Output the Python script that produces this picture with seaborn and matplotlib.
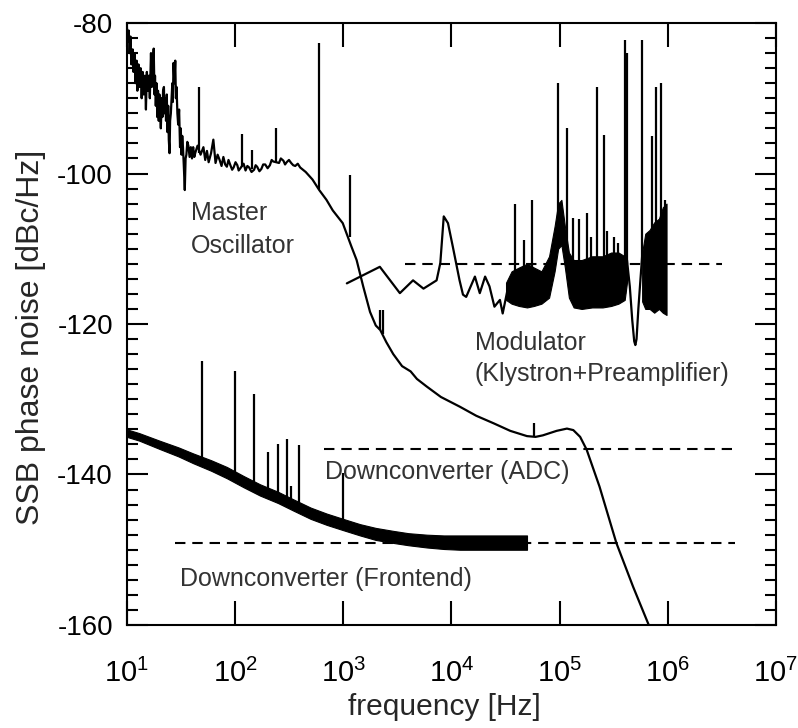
import numpy as np
import matplotlib
matplotlib.use("Agg")
import matplotlib.pyplot as plt
import seaborn as sns
from matplotlib.ticker import FixedLocator, MultipleLocator, NullLocator

# ---------------------------------------------------------------------------
# data (frequency in Hz, SSB phase noise in dBc/Hz)

# master oscillator trace
mo_f = [10, 10.2, 10.4, 10.6, 10.8, 11.0, 11.3, 11.5, 11.8, 12.0, 12.3, 12.5, 12.8,
        13.1, 13.4, 13.7, 14.0, 14.3, 14.7, 15.0, 15.3, 15.6, 16.0, 16.3, 16.7,
        17.0, 17.3, 17.7, 18.0, 18.2, 18.5, 18.8, 19.1, 19.4, 19.7, 20.0, 20.3, 20.6,
        21.0, 21.3, 21.6, 22.0, 22.3, 22.7, 23.0, 23.4, 23.7, 24.1, 24.4, 24.8, 25.1,
        25.5, 25.9, 26.3, 26.6, 27.0, 27.5, 28.0, 28.4, 28.8, 29.3, 29.8, 30.4, 31,
        31.5, 32, 32.5, 33, 33.6, 34.3, 34.9, 35.5, 36.2, 37, 38, 39, 40, 41, 42, 43,
        45, 48, 51, 53, 55, 57, 60, 63, 66, 69, 72, 75, 78, 81, 84, 87, 90, 94, 97,
        101, 105, 108, 112, 120, 125, 130, 135, 142, 150, 155, 160, 168, 175, 182,
        190, 200, 210, 218, 225, 255, 265, 280, 290, 300, 315, 330, 345, 360, 380,
        400, 450, 520, 600, 700, 800,
        990, 1190, 1330, 1530, 1770, 2000, 2200, 2500, 2900, 3500, 4200, 4800, 5900,
        8000, 12000, 17000, 24600, 35000, 50000, 60000, 70000, 94000, 117000, 134000,
        155000, 178000, 234000, 335000, 478000, 658000, 690000]
mo_db = [-80.5, -82.5, -81.0, -84.0, -81.8, -85.5, -83.5, -86.5, -84.0, -88.0, -85.0,
         -89.0, -85.5, -88.5, -86.0, -90.0, -86.5, -89.5, -87.0, -91.5, -86.5, -89.0,
         -87.0, -90.0, -84.0, -88.5, -86.0, -83.4, -89.5, -87.0, -91.0, -88.0, -92.5,
         -89.0, -93.0, -89.5, -92.0, -94.0, -90.0, -92.5, -89.0, -88.5, -92.0, -90.0,
         -93.0, -89.5, -94.5, -91.0, -95.5, -97.3, -93.0, -92.0, -90.0, -88.0, -90.5,
         -85.3, -88.0, -85.0, -90.0, -88.5, -92.0, -93.5, -91.5, -96.5, -94.0, -97.5,
         -95.0, -96.5, -99.0, -102.2, -98.0, -97.5, -95.8, -96.3, -97.8, -96.5, -98.0,
         -96.5, -97.8, -97.2, -96.3, -97.5, -96.5, -98.2, -97.0, -98.5, -97.3, -95.5,
         -98.6, -97.5, -98.2, -99.0, -97.8, -98.8, -99.1, -98.2, -98.8, -99.5, -99.2,
         -98.5, -98.9, -99.6, -99.3, -98.7, -99.6, -99.0, -99.2, -99.8, -99.5, -98.9,
         -99.1, -99.7, -99.4, -98.8, -98.8, -99.3, -98.9, -98.2, -98.4, -98.6, -98.0,
         -98.3, -98.8, -98.5, -98.2, -98.6, -98.9, -99.0, -98.7, -99.2, -99.8, -100.8,
         -102.2, -103.5, -104.9, -106.6, -109.7, -111.5,
         -115.0, -118.4, -120.2, -120.8, -122.4, -124.0, -125.6, -126.3, -127.3, -128.3,
         -129.7, -131.0, -132.2, -133.2, -134.2, -134.9, -135.0, -134.8, -134.2, -133.9,
         -134.1, -135.0, -136.7, -141.6, -149.1, -154.9, -159.8, -160.5]
mo_spike_f = [46, 115, 143, 238, 600, 1150, 2180, 2330, 58000]
mo_spike_top = [-88.5, -94.7, -96.9, -93.9, -82.7, -100.2, -118.1, -118.1, -133.2]
mo_spike_base = [-97.3, -99.2, -99.4, -98.5, -102.0, -108.5, -120.8, -121.3, -134.9]

# modulator (klystron + preamplifier) trace
mod_f = [1080, 2180, 3340, 4420, 5520, 7300, 7900, 8500, 9300, 10300, 11900, 12800,
         13700, 16500, 18300, 20500, 22500, 25000, 28100, 29800, 33000]
mod_db = [-114.6, -112.4, -115.9, -114.2, -115.3, -114.2, -111.9, -105.7, -106.6,
          -109.7, -114.2, -116.1, -116.4, -113.7, -115.9, -113.7, -115.0, -117.7,
          -116.8, -118.6, -115.5]
mod_band_f = [32000, 36000, 42000, 50000, 58000, 68000, 80000, 90000, 97000, 104000,
              112000, 122000, 135000, 160000, 200000, 250000, 300000, 350000, 400000, 420000]
mod_band_hi = [-114.5, -113.0, -112.5, -112.0, -112.5, -113.0, -111.0, -107.0, -104.0,
               -103.5, -107.0, -110.5, -111.5, -111.5, -111.0, -111.0, -110.5, -110.5,
               -111.0, -111.5]
mod_band_lo = [-116.8, -117.3, -117.6, -117.8, -117.6, -117.3, -116.5, -113.0, -110.0,
               -109.5, -112.5, -116.5, -117.8, -118.0, -117.8, -117.8, -117.6, -117.3,
               -116.8, -114.5]
mod_dip_f = [420000, 446000, 470000, 490000, 502000, 515000, 535000, 560000, 580000]
mod_dip_db = [-111.5, -115.0, -119.5, -122.3, -122.8, -122.0, -118.0, -114.0, -111.0]
mod_band2_f = [580000, 620000, 680000, 750000, 830000, 900000, 975000]
mod_band2_hi = [-110.5, -108.0, -107.5, -106.5, -106.0, -104.5, -104.0]
mod_band2_lo = [-117.0, -118.0, -118.0, -118.5, -118.0, -118.5, -118.8]
mod_spike_f = [38500, 47000, 56000, 97000, 117000, 133000, 152000, 178000, 197000,
               224000, 259000, 276000, 318000, 350000, 403000, 424000, 575000, 715000,
               775000, 870000, 935000]
mod_spike_top = [-104.0, -108.8, -103.5, -88.0, -94.0, -105.9, -106.0, -105.3, -108.4,
                 -88.5, -94.9, -107.6, -108.5, -109.3, -82.3, -84.0, -82.3, -95.0,
                 -88.5, -88.0, -103.5]
mod_spike_base = [-116.0, -117.0, -117.5, -108.0, -112.0, -117.0, -117.5, -117.5,
                  -117.5, -117.5, -117.5, -117.5, -117.0, -117.0, -116.0, -112.0,
                  -112.0, -118.0, -118.0, -118.0, -118.0]

# downconverter frontend measurement (noise band)
fe_f = [10, 13, 20, 30, 41, 60, 84, 120, 170, 250, 346, 500, 705, 1000, 1430, 2000,
        2920, 4000, 5930, 8500, 12000, 17000, 24700, 35000, 50000]
fe_hi = [-134.0, -134.5, -135.5, -136.4, -137.2, -138.1, -139.0, -140.2, -141.3,
         -142.3, -143.3, -144.4, -145.2, -145.9, -146.6, -147.1, -147.5, -147.8,
         -148.0, -148.1, -148.1, -148.1, -148.1, -148.1, -148.1]
fe_lo = [-135.0, -135.5, -136.6, -137.6, -138.5, -139.5, -140.5, -141.7, -142.8,
         -143.8, -144.8, -145.9, -146.7, -147.4, -148.1, -148.7, -149.1, -149.4,
         -149.7, -149.9, -150.0, -150.0, -150.0, -150.0, -150.0]
fe_spike_f = [50, 100, 150, 200, 250, 300, 330, 390, 1000]
fe_spike_top = [-124.9, -126.2, -129.3, -137.0, -135.9, -135.3, -141.5, -136.1, -139.8]
fe_spike_base = [-138.0, -140.0, -141.0, -142.0, -142.5, -143.0, -143.6, -144.0, -146.5]

# specification levels (dashed)
spec_levels = [-112.0, -136.6, -149.1]
spec_start = [3700, 658, 28]
spec_stop = [3.2e6, 3.9e6, 4.2e6]

# labels
labels = ["Master", "Oscillator", "Modulator", "(Klystron+Preamplifier)",
          "Downconverter (ADC)", "Downconverter (Frontend)"]
label_f = [39, 39, 16400, 16400, 676, 31]
label_db = [-106.2, -110.6, -123.5, -127.6, -140.6, -154.8]

x_ticks = [1e1, 1e2, 1e3, 1e4, 1e5, 1e6, 1e7]

# ---------------------------------------------------------------------------

sns.set_theme(style="ticks")
plt.rcParams["font.family"] = ["Liberation Sans", "DejaVu Sans"]
plt.rcParams["mathtext.fontset"] = "custom"
plt.rcParams["mathtext.rm"] = "Liberation Sans"
plt.rcParams["mathtext.default"] = "regular"
plt.rcParams["axes.unicode_minus"] = False

fig = plt.figure(figsize=(7.98, 7.28), dpi=100)
ax = fig.add_axes([0.159, 0.1415, 0.8133, 0.8269])
ax.set_xscale("log")

lw = 1.6
dash = (0, (5, 3.3))

for lev, x0, x1 in zip(spec_levels, spec_start, spec_stop):
    ax.hlines(lev, x0, x1, colors="black", linestyles=dash, linewidth=1.5)

# frontend noise band
ax.fill_between(fe_f, fe_lo, fe_hi, color="black", linewidth=0.8, edgecolor="black")
ax.vlines(fe_spike_f, fe_spike_base, fe_spike_top, colors="black", linewidth=lw)

# master oscillator
sns.lineplot(x=mo_f, y=mo_db, ax=ax, color="black", linewidth=lw, sort=False,
             estimator=None)
ax.vlines(mo_spike_f, mo_spike_base, mo_spike_top, colors="black", linewidth=lw)

# modulator
sns.lineplot(x=mod_f, y=mod_db, ax=ax, color="black", linewidth=lw, sort=False,
             estimator=None)
ax.fill_between(mod_band_f, mod_band_lo, mod_band_hi, color="black", linewidth=0.8,
                edgecolor="black")
sns.lineplot(x=mod_dip_f, y=mod_dip_db, ax=ax, color="black", linewidth=lw, sort=False,
             estimator=None)
ax.fill_between(mod_band2_f, mod_band2_lo, mod_band2_hi, color="black", linewidth=0.8,
                edgecolor="black")
ax.vlines(mod_spike_f, mod_spike_base, mod_spike_top, colors="black", linewidth=lw)

for txt, xf, yd in zip(labels, label_f, label_db):
    ax.text(xf, yd, txt, fontsize=18, color="#333333", ha="left", va="baseline")

ax.set_xlim(10, 1e7)
ax.set_ylim(-160, -80)
ax.xaxis.set_major_locator(FixedLocator(x_ticks))
ax.xaxis.set_minor_locator(NullLocator())
ax.yaxis.set_major_locator(MultipleLocator(20))
ax.yaxis.set_minor_locator(MultipleLocator(2))

ax.tick_params(which="both", direction="in", top=True, right=True, colors="black",
               width=1.5)
ax.tick_params(axis="x", which="major", length=17, pad=24, labelsize=21)
ax.tick_params(axis="y", which="major", length=15, pad=10, labelsize=20)
ax.tick_params(axis="y", which="minor", length=8)

for sp in ax.spines.values():
    sp.set_linewidth(1.5)
    sp.set_color("black")

ax.set_xlabel("frequency [Hz]", fontsize=21.5)
ax.set_ylabel("SSB phase noise [dBc/Hz]", fontsize=23)
ax.xaxis.set_label_coords(0.489, -0.113)
ax.yaxis.set_label_coords(-0.125, 0.477)

fig.savefig("out.png", dpi=100, facecolor="white")
